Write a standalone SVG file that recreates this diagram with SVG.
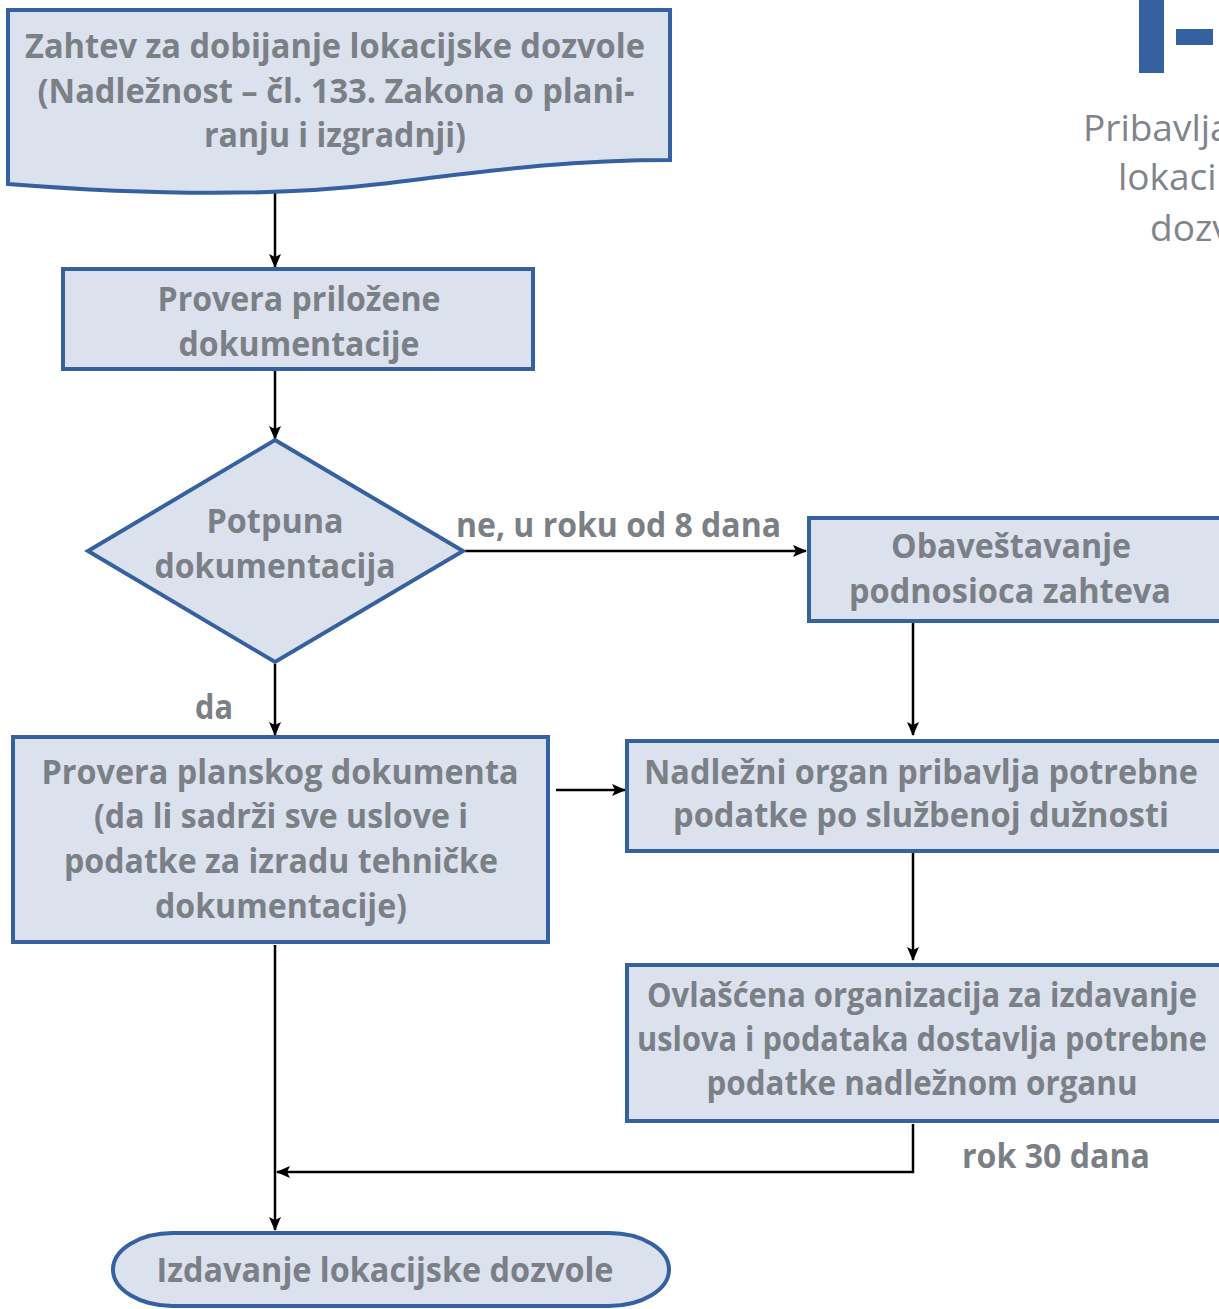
<svg xmlns="http://www.w3.org/2000/svg" width="1219" height="1309" viewBox="0 0 1219 1309">
<style>
.n{fill:#dce1ee;stroke:#3561a0;stroke-width:4}
.t{font-family:"Open Sans","Liberation Sans",sans-serif;font-weight:700;font-size:34px;fill:#7b7f86;text-anchor:middle}
.l{font-family:"Open Sans","Liberation Sans",sans-serif;font-weight:700;font-size:34px;fill:#7b7f86}
.c{fill:none;stroke:#000;stroke-width:2.5}
.h{font-family:"Open Sans","Liberation Sans",sans-serif;font-weight:400;font-size:37px;fill:#80858b}
</style>
<defs>
<marker id="a" markerWidth="14" markerHeight="12" refX="13" refY="6" orient="auto" markerUnits="userSpaceOnUse">
<path d="M0,0 L14,6 L0,12 L3,6 Z" fill="#000"/>
</marker>
</defs>
<g id="header">
<rect x="1139" y="0" width="25" height="73" fill="#3561a0"/>
<rect x="1176" y="29" width="37" height="16" fill="#3561a0"/>
<text class="h" x="1083" y="141">Pribavlja</text>
<text class="h" x="1118" y="190">lokaci</text>
<text class="h" x="1150" y="241">dozv</text>
</g>
<g id="connectors">
<line class="c" x1="275" y1="193" x2="275" y2="267" marker-end="url(#a)"/>
<line class="c" x1="275" y1="371" x2="275" y2="439" marker-end="url(#a)"/>
<line class="c" x1="465" y1="551" x2="806" y2="551" marker-end="url(#a)"/>
<line class="c" x1="913" y1="623" x2="913" y2="735" marker-end="url(#a)"/>
<line class="c" x1="913" y1="853" x2="913" y2="960" marker-end="url(#a)"/>
<line class="c" x1="275" y1="664" x2="275" y2="735" marker-end="url(#a)"/>
<line class="c" x1="556" y1="790" x2="625" y2="790" marker-end="url(#a)"/>
<line class="c" x1="275" y1="945" x2="275" y2="1230" marker-end="url(#a)"/>
<polyline class="c" points="913,1124 913,1172 277,1172" marker-end="url(#a)"/>
<text class="l" x="456" y="537" textLength="325" lengthAdjust="spacingAndGlyphs">ne, u roku od 8 dana</text>
<text class="l" x="195" y="719" textLength="38" lengthAdjust="spacingAndGlyphs">da</text>
<text class="l" x="962" y="1168" textLength="188" lengthAdjust="spacingAndGlyphs">rok 30 dana</text>
</g>
<g id="zahtev">
<path class="n" d="M8,10 H670 V160 C560,160 480,172 380,184 C280,196 160,196 8,184 Z"/>
<text class="t" x="335" y="58" textLength="620" lengthAdjust="spacingAndGlyphs">Zahtev za dobijanje lokacijske dozvole</text>
<text class="t" x="336" y="103" textLength="597" lengthAdjust="spacingAndGlyphs">(Nadležnost – čl. 133. Zakona o plani-</text>
<text class="t" x="335" y="147" textLength="262" lengthAdjust="spacingAndGlyphs">ranju i izgradnji)</text>
</g>
<g id="provera-prilozene">
<rect class="n" x="63" y="269" width="470" height="100"/>
<text class="t" x="299" y="311" textLength="283" lengthAdjust="spacingAndGlyphs">Provera priložene</text>
<text class="t" x="299" y="356" textLength="241" lengthAdjust="spacingAndGlyphs">dokumentacije</text>
</g>
<g id="potpuna">
<polygon class="n" points="275,440 463,551 275,662 88,551"/>
<text class="t" x="275" y="533" textLength="137" lengthAdjust="spacingAndGlyphs">Potpuna</text>
<text class="t" x="275" y="578" textLength="241" lengthAdjust="spacingAndGlyphs">dokumentacija</text>
</g>
<g id="obavestavanje">
<rect class="n" x="809" y="518" width="420" height="103"/>
<text class="t" x="1011" y="558" textLength="240" lengthAdjust="spacingAndGlyphs">Obaveštavanje</text>
<text class="t" x="1010" y="603" textLength="322" lengthAdjust="spacingAndGlyphs">podnosioca zahteva</text>
</g>
<g id="provera-planskog">
<rect class="n" x="13" y="737" width="535" height="205"/>
<text class="t" x="280" y="784" textLength="477" lengthAdjust="spacingAndGlyphs">Provera planskog dokumenta</text>
<text class="t" x="281" y="828" textLength="374" lengthAdjust="spacingAndGlyphs">(da li sadrži sve uslove i</text>
<text class="t" x="281" y="873" textLength="434" lengthAdjust="spacingAndGlyphs">podatke za izradu tehničke</text>
<text class="t" x="281" y="918" textLength="252" lengthAdjust="spacingAndGlyphs">dokumentacije)</text>
</g>
<g id="nadlezni">
<rect class="n" x="627" y="741" width="600" height="110"/>
<text class="t" x="921" y="784" textLength="554" lengthAdjust="spacingAndGlyphs">Nadležni organ pribavlja potrebne</text>
<text class="t" x="921" y="827" textLength="496" lengthAdjust="spacingAndGlyphs">podatke po službenoj dužnosti</text>
</g>
<g id="ovlascena">
<rect class="n" x="627" y="965" width="600" height="156"/>
<text class="t" x="922" y="1007" textLength="550" lengthAdjust="spacingAndGlyphs">Ovlašćena organizacija za izdavanje</text>
<text class="t" x="922" y="1051" textLength="570" lengthAdjust="spacingAndGlyphs">uslova i podataka dostavlja potrebne</text>
<text class="t" x="922" y="1095" textLength="431" lengthAdjust="spacingAndGlyphs">podatke nadležnom organu</text>
</g>
<g id="izdavanje">
<rect class="n" x="113" y="1233" width="556" height="73" rx="60" ry="36.5"/>
<text class="t" x="385" y="1282" textLength="457" lengthAdjust="spacingAndGlyphs">Izdavanje lokacijske dozvole</text>
</g>
</svg>
